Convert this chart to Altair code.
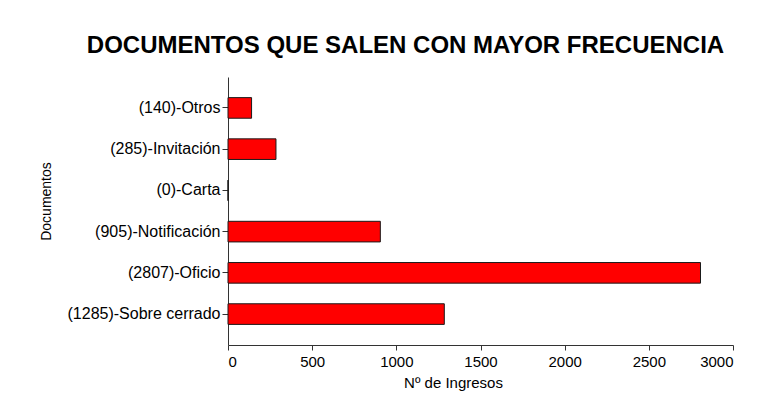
import altair as alt
import pandas as pd

categories = ["(140)-Otros", "(285)-Invitación", "(0)-Carta", "(905)-Notificación", "(2807)-Oficio", "(1285)-Sobre cerrado"]
values = [140, 285, 0, 905, 2807, 1285]
x_ticks = [0, 500, 1000, 1500, 2000, 2500, 3000]

df = pd.DataFrame({"doc": categories, "n": values})

FONT = "Liberation Sans"

chart = alt.Chart(df).mark_bar(
    color="#FF0000", stroke="#1a1a1a", strokeWidth=1
).encode(
    y=alt.Y("doc:N", sort=categories, title="Documentos",
            scale=alt.Scale(paddingInner=0.5, paddingOuter=0.5),
            axis=alt.Axis(labelFontSize=16, labelFont=FONT, labelColor="#000",
                          titleFontSize=14, titleFont=FONT, titleFontWeight="normal",
                          titleColor="#000", tickSize=6, tickColor="#333",
                          domainColor="#333", labelPadding=2, titlePadding=14,
                          titleY=124)),
    x=alt.X("n:Q", title="Nº de Ingresos",
            scale=alt.Scale(domain=[0, 3000], nice=False),
            axis=alt.Axis(values=x_ticks, format="d", grid=False,
                          labelFontSize=15, labelFont=FONT, labelColor="#000",
                          titleFontSize=15, titleFont=FONT, titleFontWeight="normal",
                          titleColor="#000", tickSize=5, tickColor="#333",
                          domainColor="#333", labelPadding=4, titlePadding=6,
                          titleX=225))
).properties(
    width=505, height=268,
    background="white",
    padding={"left": 31, "top": 26, "right": 5, "bottom": 5},
    title=alt.TitleParams("DOCUMENTOS QUE SALEN CON MAYOR FRECUENCIA",
                          font=FONT, fontSize=24, fontWeight="bold", color="#000",
                          anchor="middle", offset=19, dx=-75)
).configure_view(strokeWidth=0)

chart.save("out.html", embed_options={"renderer": "svg", "actions": False})
